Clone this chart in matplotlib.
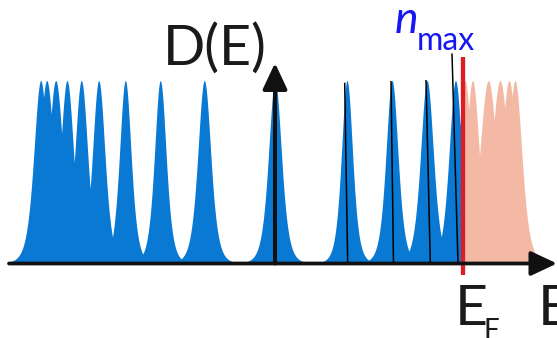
import numpy as np
import matplotlib
matplotlib.use("Agg")
import matplotlib.pyplot as plt
from matplotlib.patches import FancyArrowPatch

# ---- data (energies in arbitrary units, D-axis at E=0) ----
blue_peaks = [-234.3, -228.3, -219.3, -208.0, -193.7, -176.3, -149.7, -114.7, -70.7,
              0.0, 72.0, 117.0, 152.0, 180.5, 190.0]
blue_widths = [16.0, 17.0, 17.0, 15.5, 15.0, 14.5, 13.5, 13.5, 15.0,
               15.0, 13.0, 14.0, 15.0, 15.0, 15.0]
pink_peaks = [197.5, 213.3, 225.0, 234.0, 240.0]
pink_widths = [16.0, 20.0, 20.0, 18.0, 16.0]
peak_height = 1.0
shape_power = 3.0
E_fermi = 188.0
E_min, E_max = -266.0, 270.0

# marker lines on levels below E_F (top E, top D, bottom E, bottom D)
level_lines = [(69.7, 0.988, 72.7, 0.0),
               (116.0, 0.997, 118.5, 0.0),
               (151.0, 1.003, 155.3, 0.0)]
nmax_line = (177.0, 1.148, 183.0, 0.0)

BLUE = "#0a79d4"
PINK = "#f4b9a5"
RED = "#dc1e24"
NBLUE = "#1616f0"

all_peaks = blue_peaks + pink_peaks
all_widths = blue_widths + pink_widths


def dos(E):
    out = np.zeros_like(E)
    for c, g in zip(all_peaks, all_widths):
        out = np.maximum(out, peak_height / (1 + ((E - c) / g) ** 2) ** shape_power)
    return out


W, H = 557, 338
fig = plt.figure(figsize=(W / 100, H / 100), dpi=100)
ax = fig.add_axes([0, 0, 1, 1])
ax.axis("off")
X0, Y0, SY = 275.0, 263.5, 183.0  # pixel mapping helpers for layout
ax.set_xlim(-X0, W - X0)
ax.set_ylim((Y0 - H) / SY, Y0 / SY)


def px(x, y):
    return x - X0, (Y0 - y) / SY


Eb = np.linspace(E_min, E_fermi, 4000)
Ep = np.linspace(E_fermi, E_max, 2000)
ax.fill_between(Eb, 0, dos(Eb), color=BLUE, lw=0, zorder=1)
ax.fill_between(Ep, 0, dos(Ep), color=PINK, lw=0, zorder=1)

for (e1, d1, e2, d2) in level_lines + [nmax_line]:
    ax.plot([e1, e2], [d1, d2], color="black", lw=1.1, zorder=3, solid_capstyle="butt")

# Fermi level
ax.plot([E_fermi - 0.5, E_fermi - 0.5], [px(0, 57)[1], px(0, 275)[1]], color=RED, lw=3.1,
        zorder=4, solid_capstyle="butt")

# axes arrows
ha = FancyArrowPatch(px(9, 263.5), px(557, 263.5), arrowstyle="-|>,head_length=16,head_width=7.5",
                     mutation_scale=1, lw=2.7, color="#111111", shrinkA=0, shrinkB=0, zorder=5)
va = FancyArrowPatch(px(275, 263.5), px(275, 63), arrowstyle="-|>,head_length=16,head_width=7.5",
                     mutation_scale=1, lw=2.9, color="#111111", shrinkA=0, shrinkB=0, zorder=5)
ax.add_patch(ha)
ax.add_patch(va)

font = "Lato"
TXT = "#1a1a1a"
ax.text(*px(267, 65), "D(E)", fontsize=40, family=font, ha="right",
        va="baseline", color=TXT, zorder=6)
ax.text(*px(395, 33.5), "n", fontsize=32, family=font, style="italic", ha="left",
        va="baseline", color=NBLUE, zorder=6)
ax.text(*px(417, 50), "max", fontsize=23, family=font, ha="left", va="baseline",
        color=NBLUE, zorder=6)
ax.text(*px(455, 325), "E", fontsize=41, family=font, ha="left",
        va="baseline", color=TXT, zorder=6)
ax.text(*px(484, 339), "F", fontsize=20, family=font, ha="left",
        va="baseline", color=TXT, zorder=6)
ax.text(*px(538, 325), "E", fontsize=41, family=font, ha="left",
        va="baseline", color=TXT, zorder=6)

fig.savefig("out.png", dpi=100)
